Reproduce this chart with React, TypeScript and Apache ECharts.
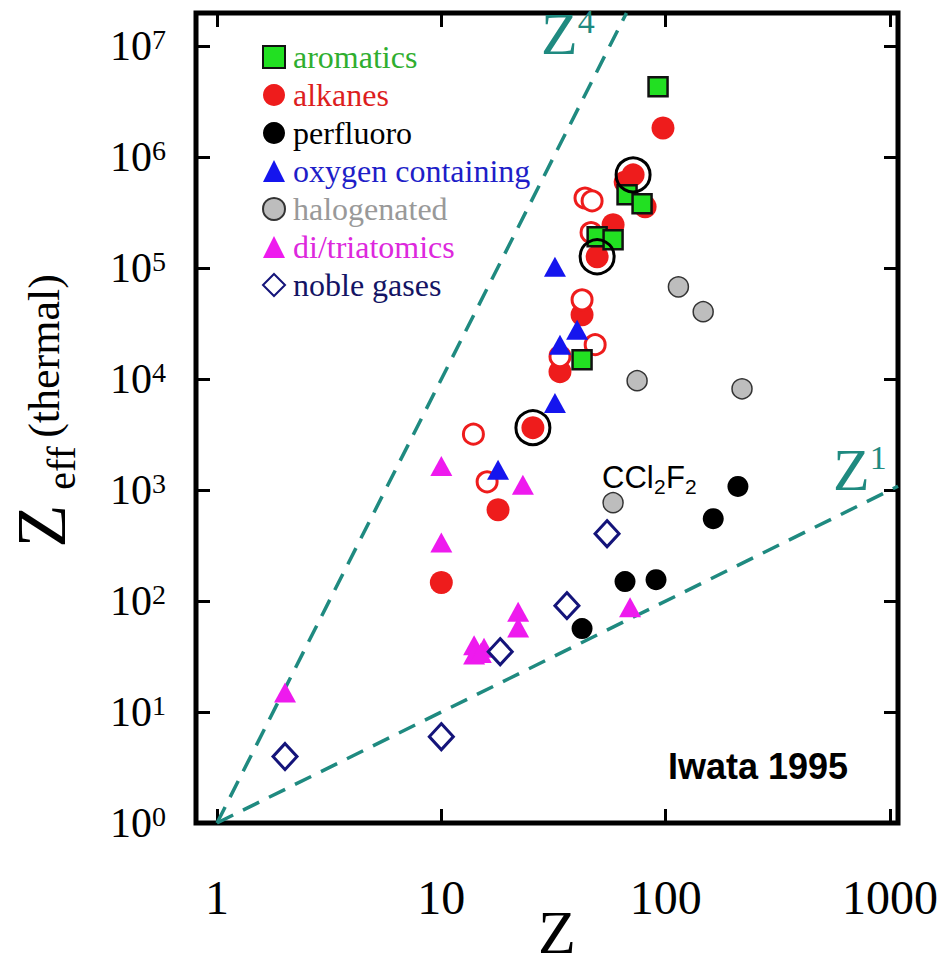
import React, { useEffect, useRef } from 'react';
import * as echarts from 'echarts';

// Axis extents (log scales)
const X_MIN = 0.806;
const X_MAX = 1086;
const Y_MIN = 1;
const Y_MAX = 2e7;

// Each point: [Z, Zeff]
const aromatics = [
  [42.4, 1.5e4], [49.5, 1.92e5], [58.3, 1.81e5], [67.3, 4.6e5], [78.5, 3.81e5], [92.5, 4.32e6],
];
const alkanes = [
  [10, 147], [17.9, 667], [25.6, 3660], [33.8, 1.17e4], [42.4, 3.81e4], [49.5, 1.27e5],
  [58.3, 2.47e5], [66, 6.0e5], [71.6, 6.95e5], [81, 3.58e5], [97.3, 1.84e6],
];
const alkanesHollow = [
  [13.9, 3200], [16, 1190], [33.8, 1.6e4], [42.4, 5.2e4], [48.5, 2.05e4],
  [43.7, 4.3e5], [47, 4.05e5], [46.5, 2.1e5],
];
const circled = [[25.6, 3660], [49.5, 1.27e5], [71.6, 6.95e5]];
const perfluoro = [[42.4, 56.5], [65.9, 150], [90.6, 156], [163, 553], [210, 1080]];
const oxygenContaining = [[17.9, 1530], [32.1, 6100], [33.8, 2.05e4], [40.3, 2.79e4], [32.1, 1.03e5]];
const halogenated = [[58.3, 771], [74.6, 9700], [114, 6.8e4], [147, 4.06e4], [219, 8200]];
const diTriatomics = [
  [2.01, 15], [10, 1650], [10, 337], [23.1, 1120], [22, 80], [22, 57.7],
  [14, 40], [15.5, 38], [14, 33], [15, 34], [69.4, 88],
];
const nobleGases = [[2.01, 3.97], [10, 6.0], [18.3, 35], [36.3, 91], [54.8, 405]];

// Power-law guides Zeff = Z^n
const powerLaws = [4, 1];

const SERIF = '"Liberation Serif", "Times New Roman", serif';
const SANS = '"Liberation Sans", Arial, sans-serif';
const TEAL = '#1f8a80';

const legendItems = [
  { name: 'aromatics', color: '#2fae2f' },
  { name: 'alkanes', color: '#dd1e1e' },
  { name: 'perfluoro', color: '#000000' },
  { name: 'oxygen containing', color: '#1e1ec8' },
  { name: 'halogenated', color: '#999999' },
  { name: 'di/triatomics', color: '#dd28dd' },
  { name: 'noble gases', color: '#141464' },
];

function powerLawLine(n: number) {
  const zEnd = Math.min(X_MAX, Math.pow(Y_MAX, 1 / n));
  return [[1, 1], [zEnd, Math.pow(zEnd, n)]];
}

function isPow10(v: number) {
  const e = Math.log10(v);
  return Math.abs(e - Math.round(e)) < 1e-6;
}

function centeredText(text: string, x: number, y: number, fontSize: number, rotation = 0) {
  return {
    type: 'text',
    x,
    y,
    rotation,
    style: {
      text,
      fontFamily: SERIF,
      fontSize,
      fill: '#000',
      align: 'center',
      verticalAlign: 'middle',
      textAlign: 'center',
      textVerticalAlign: 'middle',
    },
  };
}

function plainText(text: string, x: number, y: number, fontSize: number) {
  return { type: 'text', x, y, style: { text, fontFamily: SANS, fontSize, fill: '#000' } };
}

export default function App() {
  const ref = useRef<HTMLDivElement>(null);

  useEffect(() => {
    document.body.style.margin = '0';
    const chart = echarts.init(ref.current!, undefined, { renderer: 'svg' });

    const tickStyle = { show: true, inside: true, length: 14, lineStyle: { color: '#000', width: 3 } };
    const logX = { type: 'log', logBase: 10, min: X_MIN, max: X_MAX, splitLine: { show: false }, axisLine: { show: false } };
    const logY = { type: 'log', logBase: 10, min: Y_MIN, max: Y_MAX, splitLine: { show: false }, axisLine: { show: false } };

    const scatter = (name: string, data: number[][], symbol: string, symbolSize: any, itemStyle: any, z = 2) => ({
      type: 'scatter', name, data, symbol, symbolSize, z,
      itemStyle: { opacity: 1, ...itemStyle },
      emphasis: { disabled: true },
    });

    chart.setOption({
      animation: false,
      backgroundColor: '#fff',
      grid: {
        left: 196, top: 13, width: 702, height: 810,
        show: true, borderColor: '#000', borderWidth: 5,
        containLabel: false, outerBoundsMode: 'none',
      },
      legend: {
        orient: 'vertical',
        left: 257,
        top: 36,
        itemWidth: 22,
        itemHeight: 22,
        itemGap: 6,
        selectedMode: false,
        textStyle: { fontFamily: SERIF, fontSize: 32, padding: [0, 0, 0, 3] },
        data: legendItems.map((it) => ({ name: it.name, textStyle: { color: it.color } })),
      },
      xAxis: [
        {
          ...logX,
          position: 'bottom',
          axisTick: tickStyle,
          axisLabel: {
            margin: 50,
            fontFamily: SERIF,
            fontSize: 48,
            color: '#000',
            formatter: (v: number) => (isPow10(v) ? String(Math.round(v)) : ''),
          },
        },
        { ...logX, position: 'top', axisTick: tickStyle, axisLabel: { show: false } },
      ],
      yAxis: [
        {
          ...logY,
          position: 'left',
          axisTick: tickStyle,
          axisLabel: {
            margin: 30,
            color: '#000',
            formatter: (v: number) => (isPow10(v) ? `{b|10}{s|${Math.round(Math.log10(v))}}` : ''),
            rich: {
              b: { fontFamily: SERIF, fontSize: 42, color: '#000' },
              s: { fontFamily: SERIF, fontSize: 28, color: '#000', verticalAlign: 'top', padding: [0, 0, 14, 0] },
            },
          },
        },
        { ...logY, position: 'right', axisTick: tickStyle, axisLabel: { show: false } },
      ],
      series: [
        ...powerLaws.map((n) => ({
          type: 'line',
          name: `Z^${n}`,
          data: powerLawLine(n),
          symbol: 'none',
          silent: true,
          lineStyle: { color: TEAL, width: 3.5, type: [18, 11] },
          z: 1,
        })),
        scatter('alkanes', alkanes, 'circle', 23, { color: '#ee1c1c' }),
        scatter('alkanes hollow', alkanesHollow, 'circle', 20, { color: '#ffffff', borderColor: '#ee1c1c', borderWidth: 3 }),
        scatter('aromatics', aromatics, 'rect', 19, { color: '#22e022', borderColor: '#111', borderWidth: 2.5 }),
        scatter('perfluoro', perfluoro, 'circle', 21, { color: '#000' }),
        scatter('oxygen containing', oxygenContaining, 'triangle', [22, 20], { color: '#1515ee' }),
        scatter('halogenated', halogenated, 'circle', 20, { color: '#bdbdbd', borderColor: '#333', borderWidth: 1.5 }),
        scatter('di/triatomics', diTriatomics, 'triangle', [22, 20], { color: '#ee1aee' }),
        scatter('noble gases', nobleGases, 'diamond', [24, 26], { color: '#ffffff', borderColor: '#14147a', borderWidth: 3 }),
        scatter('circled', circled, 'circle', 34, { color: 'rgba(0,0,0,0)', borderColor: '#000', borderWidth: 3 }, 3),
      ],
      graphic: [
        // axis titles
        centeredText('Z', 557, 932, 62),
        centeredText('Z', 41, 526, 70, Math.PI / 2),
        centeredText('eff', 61, 468, 40, Math.PI / 2),
        centeredText('(thermal)', 44, 356, 44, Math.PI / 2),
        {
          type: 'text', left: 541, top: 4,
          style: {
            text: '{z|Z}{s|4}',
            rich: {
              z: { fontFamily: SERIF, fontSize: 60, fill: TEAL },
              s: { fontFamily: SERIF, fontSize: 34, fill: TEAL, verticalAlign: 'top' },
            },
          },
        },
        {
          type: 'text', left: 833, top: 440,
          style: {
            text: '{z|Z}{s|1}',
            rich: {
              z: { fontFamily: SERIF, fontSize: 60, fill: TEAL },
              s: { fontFamily: SERIF, fontSize: 34, fill: TEAL, verticalAlign: 'top' },
            },
          },
        },
        {
          type: 'group', x: 602, y: 462,
          children: [
            plainText('CCl', 0, 0, 31),
            plainText('2', 52, 14, 21),
            plainText('F', 64, 0, 31),
            plainText('2', 83, 14, 21),
          ],
        },
        {
          type: 'text', left: 668, top: 748,
          style: { text: 'Iwata 1995', fontFamily: SANS, fontSize: 36, fontWeight: 'bold', fill: '#000' },
        },
      ],
    });

    return () => chart.dispose();
  }, []);

  return <div ref={ref} style={{ width: 942, height: 968 }} />;
}
